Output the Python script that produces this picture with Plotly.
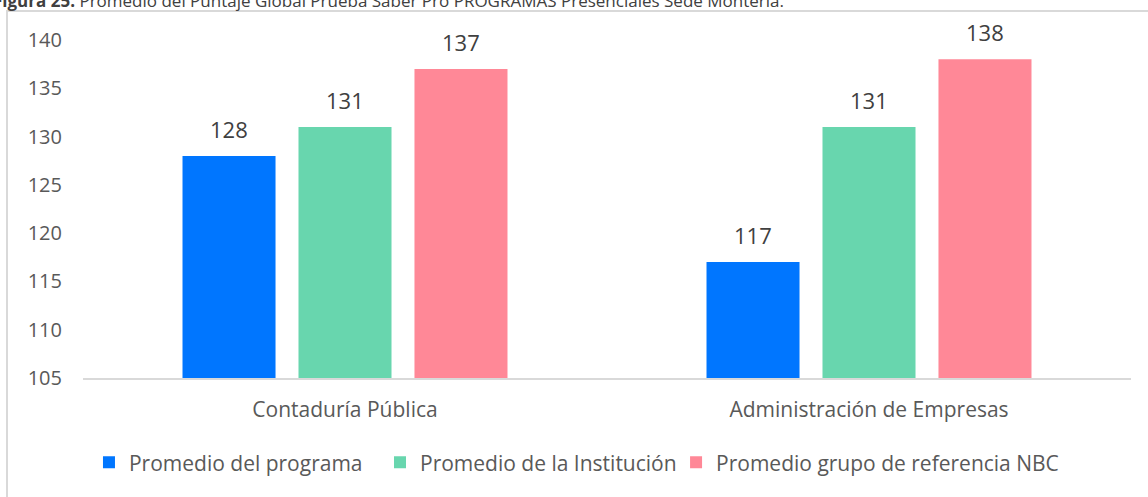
import plotly.graph_objects as go

categories = ["Contaduría Pública", "Administración de Empresas"]
series_names = ["Promedio del programa", "Promedio de la Institución", "Promedio grupo de referencia NBC"]
programa = [128, 117]
institucion = [131, 131]
referencia = [137, 138]
colors = ["#0076FF", "#68D6AE", "#FF8897"]
title_bold = "Figura 25."
title_rest = " Promedio del Puntaje Global Prueba Saber Pro PROGRAMAS Presenciales Sede Montería."

series_values = [programa, institucion, referencia]
legend_ids = ["legend", "legend2", "legend3"]
legend_x = [0.0057, 0.2834, 0.5659]

fig = go.Figure()
for name, vals, col, lg in zip(series_names, series_values, colors, legend_ids):
    fig.add_trace(go.Bar(
        x=categories, y=vals, name=name, marker=dict(color=col, line=dict(width=0)),
        cliponaxis=False, legend=lg,
    ))

# data labels above the bars
slot_px = 116
for i, vals in enumerate(series_values):
    for cat, v in zip(categories, vals):
        fig.add_annotation(
            x=cat, y=v, xref="x", yref="y", showarrow=False,
            xanchor="center", yanchor="bottom", xshift=(i - 1) * slot_px, yshift=10,
            text=str(v), font=dict(family="Open Sans", size=22, color="#404040"),
        )

legend_common = dict(orientation="h", xanchor="left", y=-0.19, yanchor="top",
                     font=dict(size=21, color="#595959"), itemwidth=30,
                     bgcolor="rgba(0,0,0,0)")

fig.update_layout(
    width=1148, height=497,
    margin=dict(l=83, r=17, t=40, b=119),
    paper_bgcolor="white", plot_bgcolor="white",
    barmode="group", bargap=0.336, bargroupgap=0.198,
    font=dict(family="Open Sans", color="#595959", size=21),
    showlegend=True,
    legend=dict(x=legend_x[0], **legend_common),
    legend2=dict(x=legend_x[1], **legend_common),
    legend3=dict(x=legend_x[2], **legend_common),
    xaxis=dict(showline=True, linecolor="#D9D9D9", linewidth=2, ticks="",
               tickfont=dict(size=21), showgrid=False, ticklabelstandoff=12),
    yaxis=dict(range=[105, 140], dtick=5, showgrid=False, zeroline=False,
               showline=False, tickfont=dict(size=20), ticklabelstandoff=20),
)

fig.add_annotation(
    x=0, y=1, xref="paper", yref="paper", xanchor="left", yanchor="middle",
    xshift=-92, yshift=40, showarrow=False,
    text="<b>" + title_bold + "</b>" + title_rest,
    font=dict(family="Open Sans", size=17, color="#404040"),
)

fig.add_shape(type="rect", xref="paper", yref="paper",
              x0=-0.0725, x1=1.2, y0=-0.5, y1=1.0858,
              line=dict(color="#D9D9D9", width=2), fillcolor="rgba(0,0,0,0)", layer="below")

fig.write_html("out.html", config={"displayModeBar": False},
               post_script="document.body.style.margin='0';document.body.style.padding='0';")
